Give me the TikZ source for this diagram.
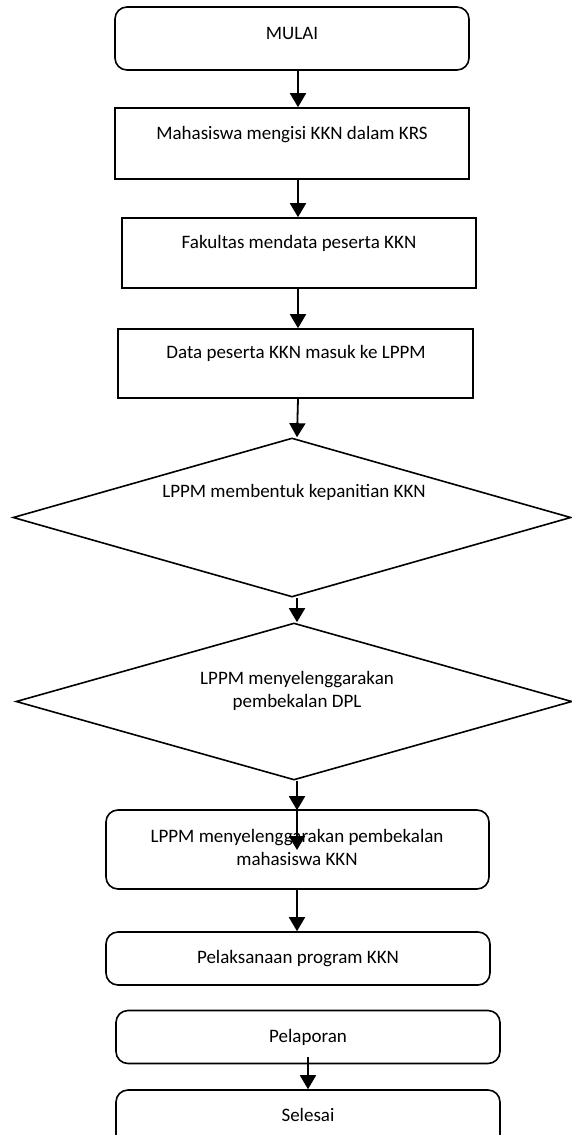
\documentclass[tikz,border=0pt]{standalone}
\usepackage{fontspec}
\setmainfont{Carlito}
\usetikzlibrary{shapes.geometric,arrows.meta}
\begin{document}
\begin{tikzpicture}[x=1pt,y=-1pt,
  every node/.style={font=\fontsize{19}{23}\selectfont},
  box/.style={draw,line width=1.6pt,inner sep=0pt},
  rbox/.style={box,rounded corners=12pt},
  dia/.style={draw,line width=1.6pt,diamond,inner sep=0pt},
  arr/.style={line width=1.8pt,-{Triangle[width=16pt,length=14pt]}},
  lbl/.style={inner sep=0pt,align=center}]
\useasboundingbox[fill=white] (0,0) rectangle (572,1135);

% shapes
\node[rbox,minimum width=354pt,minimum height=63pt] (m1) at (292,38.5) {};
\node[box,minimum width=354pt,minimum height=71pt] (m2) at (292,143.5) {};
\node[box,minimum width=354pt,minimum height=70pt] (m3) at (299,253) {};
\node[box,minimum width=355pt,minimum height=69pt] (m4) at (295.5,363.5) {};
\node[dia,minimum width=558pt,minimum height=159pt] (d1) at (292,517.5) {};
\node[dia,minimum width=556pt,minimum height=157pt] (d2) at (294,701.5) {};
\node[rbox,minimum width=383pt,minimum height=79pt] (m5) at (297.5,849.5) {};
\node[rbox,minimum width=384pt,minimum height=53pt] (m6) at (298,958.5) {};
\node[rbox,minimum width=384pt,minimum height=53pt] (m7) at (308,1037) {};
\node[rbox,minimum width=384pt,minimum height=60pt] (m8) at (308,1120) {};

% labels
\node[lbl] (t1) at (292,33) {MULAI};
\node[lbl] (t2) at (292,135) {Mahasiswa mengisi KKN dalam KRS};
\node[lbl] (t3) at (299,243) {Fakultas mendata peserta KKN};
\node[lbl] (t4) at (296,353) {Data peserta KKN masuk ke LPPM};
\node[lbl] (t5) at (294,492) {LPPM membentuk kepanitian KKN};
\node[lbl] (t6) at (297,691) {LPPM menyelenggarakan\\pembekalan DPL};
\node[lbl] (t7) at (297,847) {LPPM menyelenggarakan pembekalan\\mahasiswa KKN};
\node[lbl] (t8) at (298,959) {Pelaksanaan program KKN};
\node[lbl] (t9) at (308,1037) {Pelaporan};
\node[lbl] (t10) at (308,1115) {Selesai};

% connectors
\coordinate (c5) at (297,850);
\coordinate (c7) at (308,1057);
\draw[arr] ([xshift=6pt]m1.south) -- ([xshift=6pt]m2.north);
\draw[arr] ([xshift=6pt]m2.south) -- ([xshift=-1pt]m3.north);
\draw[arr] ([xshift=-1pt]m3.south) -- ([xshift=2.5pt]m4.north);
\draw[arr] ([xshift=2.5pt]m4.south) -- ([xshift=5pt]d1.north);
\draw[arr] ([xshift=5pt]d1.south) -- ([xshift=3pt]d2.north);
\draw[arr] ([xshift=3pt]d2.south) -- ([xshift=-0.5pt,yshift=-1pt]m5.north);
\draw[arr] ([xshift=-0.5pt]m5.north) -- (c5);
\draw[arr] ([xshift=-0.5pt]m5.south) -- ([xshift=-1pt]m6.north);
\draw[arr] (c7) -- (m8.north);
\end{tikzpicture}
\end{document}
